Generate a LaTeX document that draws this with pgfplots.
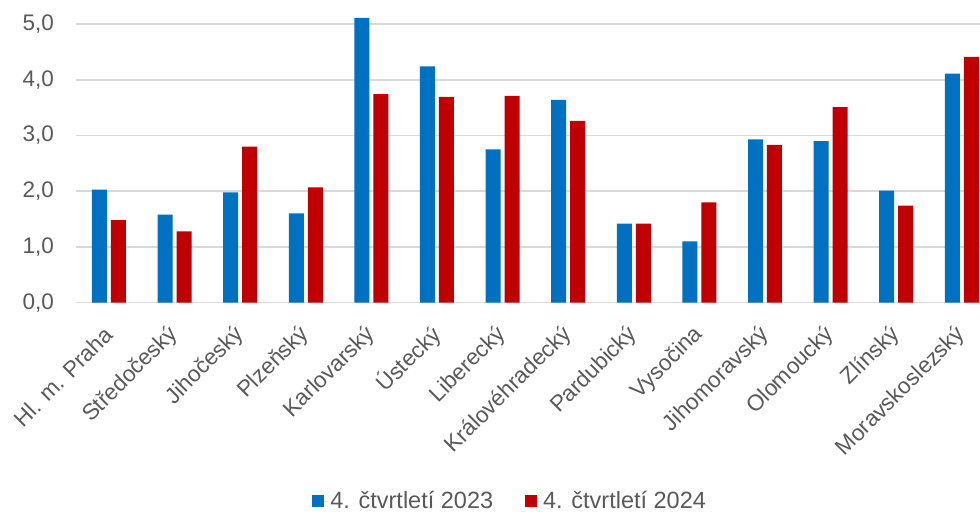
\documentclass[border=0pt]{standalone}
\usepackage{fontspec}
\setmainfont{Liberation Sans}
\usepackage{pgfplots}
\pgfplotsset{compat=1.18}
\definecolor{c23}{HTML}{0070C0}
\definecolor{c24}{HTML}{C00000}
\definecolor{gridgray}{HTML}{D9D9D9}
\definecolor{txtgray}{HTML}{595959}
\begin{document}
\begin{tikzpicture}
\begin{axis}[
  scale only axis, width=918.6pt, height=278.7pt,
  ybar=4pt, bar width=15pt,
  xmin=-0.5, xmax=13.5, ymin=0, ymax=5,
  xtick={0,...,13},
  xticklabels={Hl. m. Praha, Středočeský, Jihočeský, Plzeňský, Karlovarský, Ústecký, Liberecký, Královéhradecký, Pardubický, Vysočina, Jihomoravský, Olomoucký, Zlínský, Moravskoslezský},
  ytick={0,1,...,5},
  ymajorgrids, grid style={gridgray, line width=1.6pt},
  axis line style={draw=none}, tick style={draw=none},
  clip=false,
  font=\fontsize{22.5}{27}\selectfont,
  tick label style={text=txtgray, inner sep=0pt},
  /pgf/number format/.cd, fixed, fixed zerofill, precision=1, use comma, assume math mode=true,
  /pgfplots/.cd,
  yticklabel style={anchor=east, xshift=-22pt},
  xticklabel style={rotate=45, anchor=east},
  xticklabel shift=24pt,
  legend style={at={(0.4725,-0.712)}, anchor=center, draw=none, text=txtgray,
    font=\fontsize{23.5}{27}\selectfont, inner sep=0pt,
    legend columns=2, /tikz/every even column/.append style={column sep=30pt}},
  legend image code/.code={\path[#1, draw=none] (0pt,-6pt) rectangle (12pt,6pt);
    \path (0pt,0pt) -- (16pt,0pt);},
]
\addplot[fill=c23, draw=none] coordinates {
  (0,2.03) (1,1.58) (2,1.98) (3,1.60) (4,5.11) (5,4.24) (6,2.75)
  (7,3.64) (8,1.42) (9,1.10) (10,2.93) (11,2.90) (12,2.01) (13,4.11)};
\addlegendentry{4. čtvrtletí 2023}
\addplot[fill=c24, draw=none] coordinates {
  (0,1.48) (1,1.28) (2,2.80) (3,2.07) (4,3.74) (5,3.69) (6,3.71)
  (7,3.26) (8,1.42) (9,1.80) (10,2.83) (11,3.51) (12,1.74) (13,4.41)};
\addlegendentry{4. čtvrtletí 2024}
\coordinate (bl) at (rel axis cs:0,0);
\coordinate (tr) at (rel axis cs:1,1);
\end{axis}
\pgfresetboundingbox
\path ([shift={(-76.2pt,-212.3pt)}]bl) rectangle ([shift={(-14.6pt,24pt)}]tr);
\end{tikzpicture}
\end{document}
